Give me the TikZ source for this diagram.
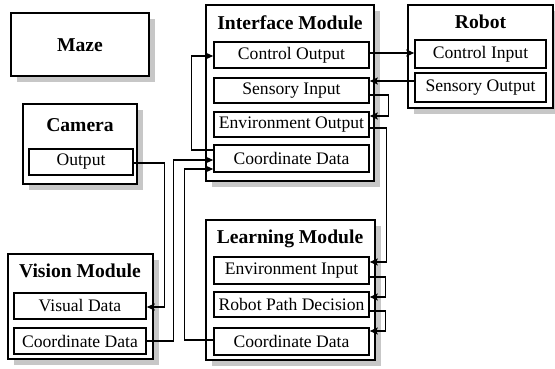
\documentclass[tikz,border=0pt]{standalone}
\usepackage{fontspec}
\setmainfont{Liberation Serif}
\usetikzlibrary{arrows.meta,shadows}

\tikzset{
  module/.style={draw=black, line width=1.5pt, fill=white, rectangle, inner sep=0pt,
    drop shadow={shadow xshift=6pt, shadow yshift=-6pt, fill=black!22, opacity=1}},
  port/.style={draw=black, line width=1.5pt, fill=white, rectangle, inner sep=0pt,
    font=\fontsize{17.6}{18}\selectfont},
  title/.style={inner sep=0pt, font=\fontsize{19.6}{20}\selectfont\bfseries},
  arr/.style={line width=1.4pt, -{Stealth[length=8pt,width=7pt,inset=1.5pt]}}
}

\begin{document}
\begin{tikzpicture}[x=1pt,y=-1pt]
\useasboundingbox (0,0) rectangle (555,369);

% Maze
\node[module, minimum width=138pt, minimum height=63pt] (maze) at (80,44.5) {};
\node[title] (mazeT) at (80,45) {Maze};

% Camera
\node[module, minimum width=114pt, minimum height=80pt] (cam) at (80,144) {};
\node[title] (camT) at (80,125) {Camera};
\node[port, minimum width=104pt, minimum height=26pt] (out) at (81,162) {Output};

% Interface module
\node[module, minimum width=168pt, minimum height=176pt] (iface) at (290,93) {};
\node[title] (ifaceT) at (290,23) {Interface Module};
\node[port, minimum width=155pt, minimum height=26pt] (co)  at (291.5,55)    {Control Output};
\node[port, minimum width=155pt, minimum height=25pt] (si)  at (291.5,90.5)  {Sensory Input};
\node[port, minimum width=155pt, minimum height=25pt] (eo)  at (291.5,124.5) {Environment Output};
\node[port, minimum width=155pt, minimum height=27pt] (icd) at (291.5,158.5) {Coordinate Data};

% Robot
\node[module, minimum width=145pt, minimum height=103pt] (robot) at (480.5,56.5) {};
\node[title] (robotT) at (480.5,22) {Robot};
\node[port, minimum width=131pt, minimum height=28pt] (ci) at (480.5,54)   {Control Input};
\node[port, minimum width=131pt, minimum height=29pt] (so) at (480.5,87.5) {Sensory Output};

% Learning module
\node[module, minimum width=169pt, minimum height=140pt] (learn) at (290.5,290) {};
\node[title] (learnT) at (290,239) {Learning Module};
\node[port, minimum width=155pt, minimum height=27pt] (ei)  at (291.5,270.5) {Environment Input};
\node[port, minimum width=155pt, minimum height=25pt] (rpd) at (291.5,304.5) {Robot Path Decision};
\node[port, minimum width=155pt, minimum height=27pt] (lcd) at (291.5,341.5) {Coordinate Data};

% Vision module
\node[module, minimum width=145pt, minimum height=105pt] (vision) at (80.5,306.5) {};
\node[title] (visionT) at (80,271) {Vision Module};
\node[port, minimum width=132pt, minimum height=26pt] (vd)  at (80,306) {Visual Data};
\node[port, minimum width=132pt, minimum height=26pt] (vcd) at (80,341) {Coordinate Data};

% Connectors
\draw[arr] (co.east |- 0,53) -- (ci.west |- 0,53);
\draw[arr] (so.west |- 0,81) -- (si.east |- 0,81);
\draw[arr] (si.east |- 0,95) -- ++(19,0) |- (eo.east |- 0,116);
\draw[arr] (eo.east |- 0,128) -- ++(17,0) |- (ei.east |- 0,262);
\draw[arr] (ei.east |- 0,277) -- ++(16,0) |- (rpd.east |- 0,297);
\draw[arr] (rpd.east |- 0,311) -- ++(16,0) |- (lcd.east |- 0,331);
\draw[arr] (icd.west |- 0,150) -- ++(-22,0) |- (co.west |- 0,56);
\draw[arr] (out.east |- 0,163) -- ++(31,0) |- (vd.east |- 0,307);
\draw[arr] (vcd.east) -- ++(27,0) |- (icd.west |- 0,160);
\draw[arr] (lcd.west |- 0,340) -- ++(-29,0) |- (icd.west |- 0,169);
\end{tikzpicture}
\end{document}
